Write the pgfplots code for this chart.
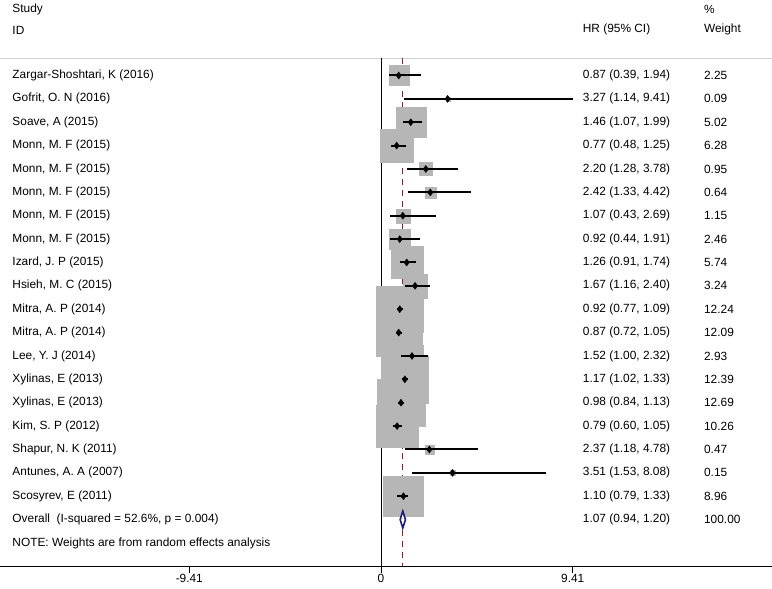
\documentclass[border=0pt]{standalone}
\usepackage{fontspec}
\setmainfont{Liberation Sans}
\usepackage{pgfplots}
\usepackage{pgfplotstable}
\pgfplotsset{compat=1.18}
\definecolor{boxgray}{RGB}{182,182,182}
\definecolor{refred}{RGB}{140,35,40}
\definecolor{ovnavy}{RGB}{28,28,120}
\newcommand\tf{\fontsize{11.9}{14}\selectfont}
\pgfplotstableread{
y hr lo hi w
0 0.87 0.39 1.94 2.25
-1 3.27 1.14 9.41 0.09
-2 1.46 1.07 1.99 5.02
-3 0.77 0.48 1.25 6.28
-4 2.20 1.28 3.78 0.95
-5 2.42 1.33 4.42 0.64
-6 1.07 0.43 2.69 1.15
-7 0.92 0.44 1.91 2.46
-8 1.26 0.91 1.74 5.74
-9 1.67 1.16 2.40 3.24
-10 0.92 0.77 1.09 12.24
-11 0.87 0.72 1.05 12.09
-12 1.52 1.00 2.32 2.93
-13 1.17 1.02 1.33 12.39
-14 0.98 0.84 1.13 12.69
-15 0.79 0.60 1.05 10.26
-16 2.37 1.18 4.78 0.47
-17 3.51 1.53 8.08 0.15
-18 1.10 0.79 1.33 8.96
}\studies
\begin{document}
\begin{tikzpicture}
\begin{axis}[
  scale only axis, width=772pt, height=567pt,
  xmin=-18.68, xmax=19.17, ymin=-21, ymax=3.23,
  axis x line*=bottom, axis y line=none,
  x axis line style={line width=0.9pt, black},
  xtick={-9.41,0,9.41},
  tick align=outside, major tick length=7pt,
  tick style={line width=0.9pt, black},
  /pgf/number format/assume math mode=true,
  /pgf/number format/.cd, fixed, precision=2, /pgfplots/.cd,
  tick label style={font=\tf},
  xticklabel style={yshift=3pt},
  clip=false, clip marker paths=true,
]
% full-size bounding box
\path (rel axis cs:0,1) -- (rel axis cs:1,1);
\path (rel axis cs:0,0) ++(0pt,-22pt) coordinate (bb);
\path (bb) -- ++(1pt,0);
% top light rule
\addplot[line width=0.8pt, black!18] coordinates {(-18.68,0.75) (19.17,0.75)};
% reference lines
\addplot[line width=0.9pt, black] coordinates {(0,0.75) (0,-21)};
\addplot[line width=1pt, refred, dash pattern=on 6pt off 5pt] coordinates {(1.07,0.75) (1.07,-21)};
% weight boxes
\addplot[scatter, only marks, mark=square*, point meta=explicit,
  visualization depends on={6.667*sqrt(\thisrow{w}) \as \msz},
  scatter/@pre marker code/.code={\scope[mark size=\msz pt, draw=boxgray, fill=boxgray, line width=0.1pt]},
  scatter/@post marker code/.code={\endscope}]
  table[x=hr, y=y, meta=w] {\studies};
% point estimates and CIs
\addplot[only marks, mark=diamond*, mark size=3.5pt, black,
  error bars/.cd, x dir=both, x explicit, error mark=none,
  error bar style={line width=2pt, black}]
  table[x=hr, y=y, x error plus expr=\thisrow{hi}-\thisrow{hr}, x error minus expr=\thisrow{hr}-\thisrow{lo}] {\studies};
% overall diamond
\addplot[ovnavy, line width=1.6pt, fill=white] coordinates {(0.94,-19) (1.07,-18.64) (1.20,-19) (1.07,-19.36) (0.94,-19)} -- cycle;

\begin{scope}[every node/.style={font=\tf, inner sep=0pt, anchor=west}]
\node at (axis cs:-18.1,2.83) {Study};
\node at (axis cs:-18.1,1.95) {ID};
\node at (axis cs:9.9,1.95) {HR (95\% CI)};
\node at (axis cs:15.85,2.83) {\%};
\node at (axis cs:15.85,1.95) {Weight};

\node at (axis cs:-18.1,0) {Zargar-Shoshtari, K (2016)};
\node at (axis cs:-18.1,-1) {Gofrit, O. N (2016)};
\node at (axis cs:-18.1,-2) {Soave, A (2015)};
\node at (axis cs:-18.1,-3) {Monn, M. F (2015)};
\node at (axis cs:-18.1,-4) {Monn, M. F (2015)};
\node at (axis cs:-18.1,-5) {Monn, M. F (2015)};
\node at (axis cs:-18.1,-6) {Monn, M. F (2015)};
\node at (axis cs:-18.1,-7) {Monn, M. F (2015)};
\node at (axis cs:-18.1,-8) {Izard, J. P (2015)};
\node at (axis cs:-18.1,-9) {Hsieh, M. C (2015)};
\node at (axis cs:-18.1,-10) {Mitra, A. P (2014)};
\node at (axis cs:-18.1,-11) {Mitra, A. P (2014)};
\node at (axis cs:-18.1,-12) {Lee, Y. J (2014)};
\node at (axis cs:-18.1,-13) {Xylinas, E (2013)};
\node at (axis cs:-18.1,-14) {Xylinas, E (2013)};
\node at (axis cs:-18.1,-15) {Kim, S. P (2012)};
\node at (axis cs:-18.1,-16) {Shapur, N. K (2011)};
\node at (axis cs:-18.1,-17) {Antunes, A. A (2007)};
\node at (axis cs:-18.1,-18) {Scosyrev, E (2011)};
\node at (axis cs:-18.1,-19) {Overall\ \ (I-squared = 52.6\%, p = 0.004)};
\node at (axis cs:-18.1,-20) {NOTE: Weights are from random effects analysis};

\node at (axis cs:9.9,0) {0.87 (0.39, 1.94)};
\node at (axis cs:9.9,-1) {3.27 (1.14, 9.41)};
\node at (axis cs:9.9,-2) {1.46 (1.07, 1.99)};
\node at (axis cs:9.9,-3) {0.77 (0.48, 1.25)};
\node at (axis cs:9.9,-4) {2.20 (1.28, 3.78)};
\node at (axis cs:9.9,-5) {2.42 (1.33, 4.42)};
\node at (axis cs:9.9,-6) {1.07 (0.43, 2.69)};
\node at (axis cs:9.9,-7) {0.92 (0.44, 1.91)};
\node at (axis cs:9.9,-8) {1.26 (0.91, 1.74)};
\node at (axis cs:9.9,-9) {1.67 (1.16, 2.40)};
\node at (axis cs:9.9,-10) {0.92 (0.77, 1.09)};
\node at (axis cs:9.9,-11) {0.87 (0.72, 1.05)};
\node at (axis cs:9.9,-12) {1.52 (1.00, 2.32)};
\node at (axis cs:9.9,-13) {1.17 (1.02, 1.33)};
\node at (axis cs:9.9,-14) {0.98 (0.84, 1.13)};
\node at (axis cs:9.9,-15) {0.79 (0.60, 1.05)};
\node at (axis cs:9.9,-16) {2.37 (1.18, 4.78)};
\node at (axis cs:9.9,-17) {3.51 (1.53, 8.08)};
\node at (axis cs:9.9,-18) {1.10 (0.79, 1.33)};
\node at (axis cs:9.9,-19) {1.07 (0.94, 1.20)};

\node at (axis cs:15.85,0) {2.25};
\node at (axis cs:15.85,-1) {0.09};
\node at (axis cs:15.85,-2) {5.02};
\node at (axis cs:15.85,-3) {6.28};
\node at (axis cs:15.85,-4) {0.95};
\node at (axis cs:15.85,-5) {0.64};
\node at (axis cs:15.85,-6) {1.15};
\node at (axis cs:15.85,-7) {2.46};
\node at (axis cs:15.85,-8) {5.74};
\node at (axis cs:15.85,-9) {3.24};
\node at (axis cs:15.85,-10) {12.24};
\node at (axis cs:15.85,-11) {12.09};
\node at (axis cs:15.85,-12) {2.93};
\node at (axis cs:15.85,-13) {12.39};
\node at (axis cs:15.85,-14) {12.69};
\node at (axis cs:15.85,-15) {10.26};
\node at (axis cs:15.85,-16) {0.47};
\node at (axis cs:15.85,-17) {0.15};
\node at (axis cs:15.85,-18) {8.96};
\node at (axis cs:15.85,-19) {100.00};
\end{scope}
\end{axis}
\end{tikzpicture}
\end{document}
